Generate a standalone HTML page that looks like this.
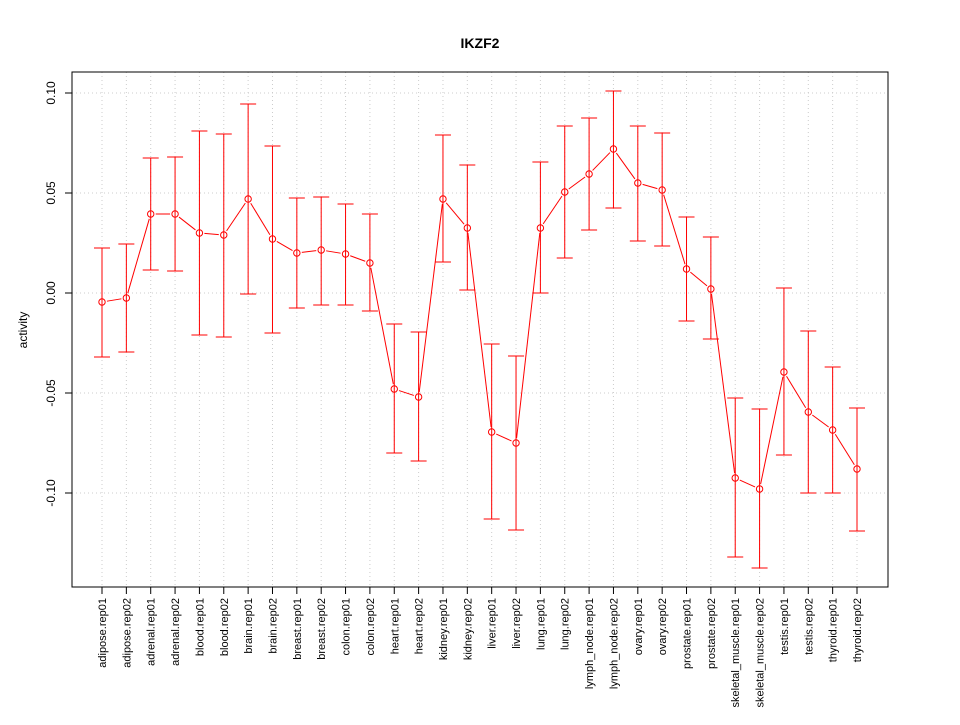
<!DOCTYPE html>
<html><head><meta charset="utf-8"><style>
body{margin:0;background:#fff;}
svg text{font-family:"Liberation Sans",Arial,sans-serif;}
</style></head><body>
<svg id="chart" width="960" height="720" viewBox="0 0 960 720">
<text x="480" y="48" text-anchor="middle" font-size="14" font-weight="bold">IKZF2</text>
<g id="grid"></g><g id="bars"></g><g id="line"></g><g id="axes"></g>
<rect x="72" y="72" width="816" height="515" fill="none" stroke="#000"/>
<text transform="translate(27,330) rotate(-90)" text-anchor="middle" font-size="12">activity</text>
</svg>
<script>
const categories=["adipose.rep01","adipose.rep02","adrenal.rep01","adrenal.rep02","blood.rep01","blood.rep02","brain.rep01","brain.rep02","breast.rep01","breast.rep02","colon.rep01","colon.rep02","heart.rep01","heart.rep02","kidney.rep01","kidney.rep02","liver.rep01","liver.rep02","lung.rep01","lung.rep02","lymph_node.rep01","lymph_node.rep02","ovary.rep01","ovary.rep02","prostate.rep01","prostate.rep02","skeletal_muscle.rep01","skeletal_muscle.rep02","testis.rep01","testis.rep02","thyroid.rep01","thyroid.rep02"];
const values=[-0.0045,-0.0025,0.0395,0.0395,0.030,0.029,0.047,0.027,0.020,0.0215,0.0195,0.015,-0.048,-0.052,0.047,0.0325,-0.0695,-0.075,0.0325,0.0505,0.0595,0.072,0.055,0.0515,0.012,0.002,-0.0925,-0.098,-0.0395,-0.0595,-0.0685,-0.088];
const upper=[0.0225,0.0245,0.0675,0.068,0.081,0.0795,0.0945,0.0735,0.0475,0.048,0.0445,0.0395,-0.0155,-0.0195,0.079,0.064,-0.0255,-0.0315,0.0655,0.0835,0.0875,0.101,0.0835,0.080,0.038,0.028,-0.0525,-0.058,0.0025,-0.019,-0.037,-0.0575];
const lower=[-0.032,-0.0295,0.0115,0.011,-0.021,-0.022,-0.0005,-0.020,-0.0075,-0.006,-0.006,-0.009,-0.080,-0.084,0.0155,0.0015,-0.113,-0.1185,0,0.0175,0.0315,0.0425,0.026,0.0235,-0.014,-0.023,-0.132,-0.1375,-0.081,-0.100,-0.100,-0.119];
const yTicks=[0.10,0.05,0.00,-0.05,-0.10];
const yTickLabels=["0.10","0.05","0.00","-0.05","-0.10"];
const NS="http://www.w3.org/2000/svg";
const xs=i=>102+i*(857-102)/(categories.length-1);
const ys=v=>293-v*2000;
function mk(tag,attrs,parent){const e=document.createElementNS(NS,tag);for(const k in attrs)e.setAttribute(k,attrs[k]);document.getElementById(parent).appendChild(e);return e;}
categories.forEach((c,i)=>{
 const g=mk('line',{x1:xs(i),x2:xs(i),y1:72,y2:587,stroke:'#ccc','stroke-dasharray':'1,3'},'grid');
 
 
 const t=mk('line',{x1:xs(i),x2:xs(i),y1:587,y2:594,stroke:'#000'},'axes');
 
 
 const l=mk('text',{transform:`translate(${xs(i)+4},598) rotate(-90)`,'text-anchor':'end','font-size':'11'},'axes');
 l.textContent=c;
 
 
});
yTicks.forEach((v,i)=>{
 const g=mk('line',{x1:72,x2:888,y1:ys(v),y2:ys(v),stroke:'#ccc','stroke-dasharray':'1,3'},'grid');
 
 
 const t=mk('line',{x1:65,x2:72,y1:ys(v),y2:ys(v),stroke:'#000'},'axes');
 
 
 const l=mk('text',{transform:`translate(55,${ys(v)}) rotate(-90)`,'text-anchor':'middle','font-size':'12'},'axes');
 l.textContent=yTickLabels[i];
 
 
});
mk('line',{x1:72,x2:72,y1:ys(0.10),y2:ys(-0.10),stroke:'#000'},'axes');
mk('line',{x1:xs(0),x2:xs(categories.length-1),y1:587,y2:587,stroke:'#000'},'axes');
categories.forEach((c,i)=>{
 const x=xs(i);
 const e=mk('path',{d:`M${x},${ys(upper[i])}V${ys(lower[i])}M${x-8},${ys(upper[i])}H${x+8}M${x-8},${ys(lower[i])}H${x+8}`,stroke:'#f00',fill:'none','stroke-width':'1'},'bars');
 
 
 const p=mk('circle',{cx:x,cy:ys(values[i]),r:3.2,fill:'none',stroke:'#f00'},'line');
 
 
 if(i>0){
  const x0=xs(i-1),y0=ys(values[i-1]),y1=ys(values[i]);
  const dx=x-x0,dy=y1-y0,L=Math.hypot(dx,dy),g=5;
  if(L>2*g){
   const s=mk('line',{x1:x0+dx*g/L,y1:y0+dy*g/L,x2:x-dx*g/L,y2:y1-dy*g/L,stroke:'#f00'},'line');
   
   
  }
 }
});
</script>
</body></html>
